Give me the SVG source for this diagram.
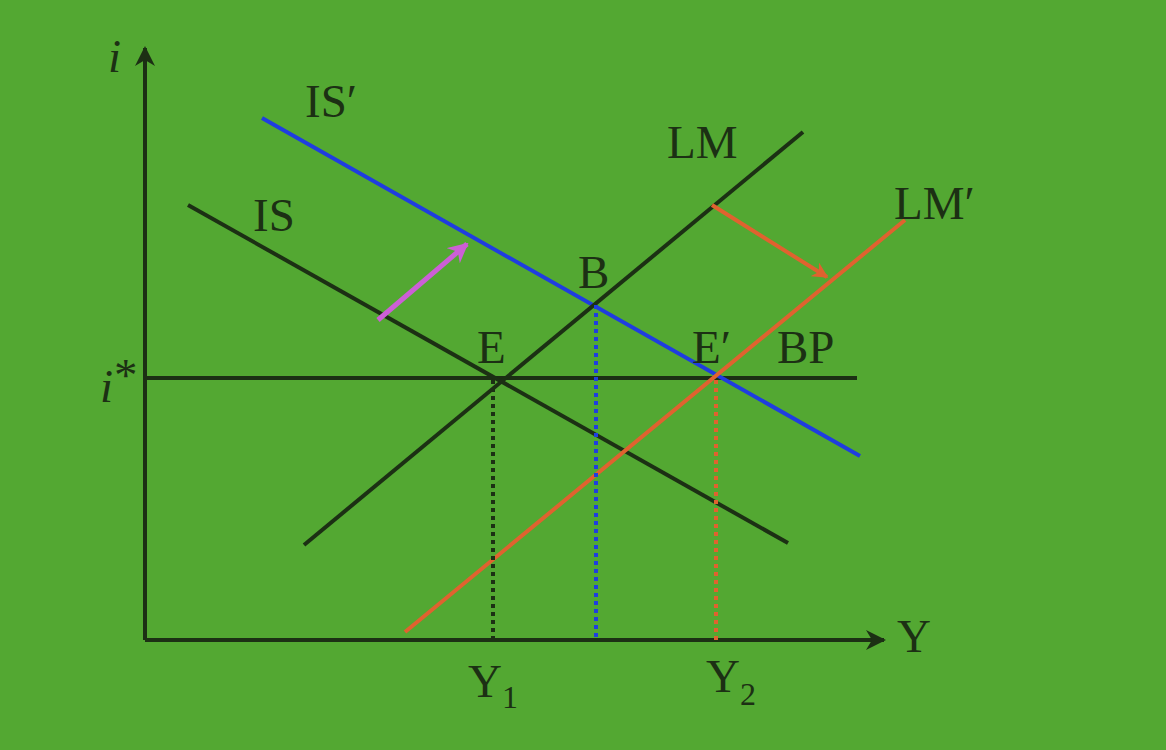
<svg xmlns="http://www.w3.org/2000/svg" width="1166" height="750" viewBox="0 0 1166 750">
<style>
.t{font-family:"Liberation Serif","Times New Roman",serif;font-size:47px;fill:#1c3014}
.it{font-style:italic}
.ax{stroke:#1c3014;stroke-width:4;fill:none}
.dk{stroke:#1c3014;stroke-width:4;fill:none}
.bl{stroke:#1f3de0;stroke-width:4;fill:none}
.or{stroke:#e0622f;stroke-width:4;fill:none}
.dot{stroke-width:4;stroke-dasharray:4 4;fill:none}
</style>
<defs>
<marker id="ah" viewBox="0 0 10 10" refX="9" refY="5" markerWidth="5" markerHeight="5" orient="auto" markerUnits="strokeWidth"><path d="M0,0 L10,5 L0,10 L3,5 Z" fill="#1c3014"/></marker>
<marker id="am" viewBox="0 0 10 10" refX="9" refY="5" markerWidth="4" markerHeight="4" orient="auto" markerUnits="strokeWidth"><path d="M0,0 L10,5 L0,10 L3,5 Z" fill="#cc5fd6"/></marker>
<marker id="ao" viewBox="0 0 10 10" refX="9" refY="5" markerWidth="4" markerHeight="4" orient="auto" markerUnits="strokeWidth"><path d="M0,0 L10,5 L0,10 L3,5 Z" fill="#e0622f"/></marker>
</defs>
<rect width="1166" height="750" fill="#53a832"/>
<g id="connectors">
<line class="ax" x1="145" y1="640" x2="145" y2="48" marker-end="url(#ah)"/>
<line class="ax" x1="145" y1="640" x2="884" y2="640" marker-end="url(#ah)"/>
<line class="dk" x1="145" y1="378" x2="857" y2="378"/>
<line class="dk" x1="188" y1="205" x2="788" y2="543"/>
<line class="bl" x1="262" y1="118" x2="860" y2="456"/>
<line class="dk" x1="304" y1="545" x2="803" y2="132"/>
<line class="or" x1="405" y1="632" x2="905" y2="220"/>
<line class="dot" stroke="#1c3014" x1="493" y1="380" x2="493" y2="640"/>
<line class="dot" stroke="#1f3de0" x1="596" y1="305" x2="596" y2="640"/>
<line class="dot" stroke="#e0622f" x1="716" y1="380" x2="716" y2="640"/>
<line stroke="#cc5fd6" stroke-width="5" x1="378" y1="320" x2="467" y2="244" marker-end="url(#am)"/>
<line stroke="#e0622f" stroke-width="4" x1="712" y1="205" x2="827" y2="277" marker-end="url(#ao)"/>
</g>
<g id="labels">
<text class="t it" x="108" y="72">i</text>
<text class="t it" x="100" y="402">i</text>
<text class="t" x="114" y="391" font-size="28">*</text>
<text class="t" x="305" y="117">IS′</text>
<text class="t" x="253" y="231">IS</text>
<text class="t" x="667" y="158">LM</text>
<text class="t" x="894" y="219">LM′</text>
<text class="t" x="578" y="288">B</text>
<text class="t" x="477" y="363">E</text>
<text class="t" x="692" y="363">E′</text>
<text class="t" x="777" y="363">BP</text>
<text class="t" x="897" y="652">Y</text>
<text class="t" x="468" y="697">Y<tspan font-size="32" dy="11">1</tspan></text>
<text class="t" x="706" y="692">Y<tspan font-size="32" dy="13">2</tspan></text>
</g>
</svg>
